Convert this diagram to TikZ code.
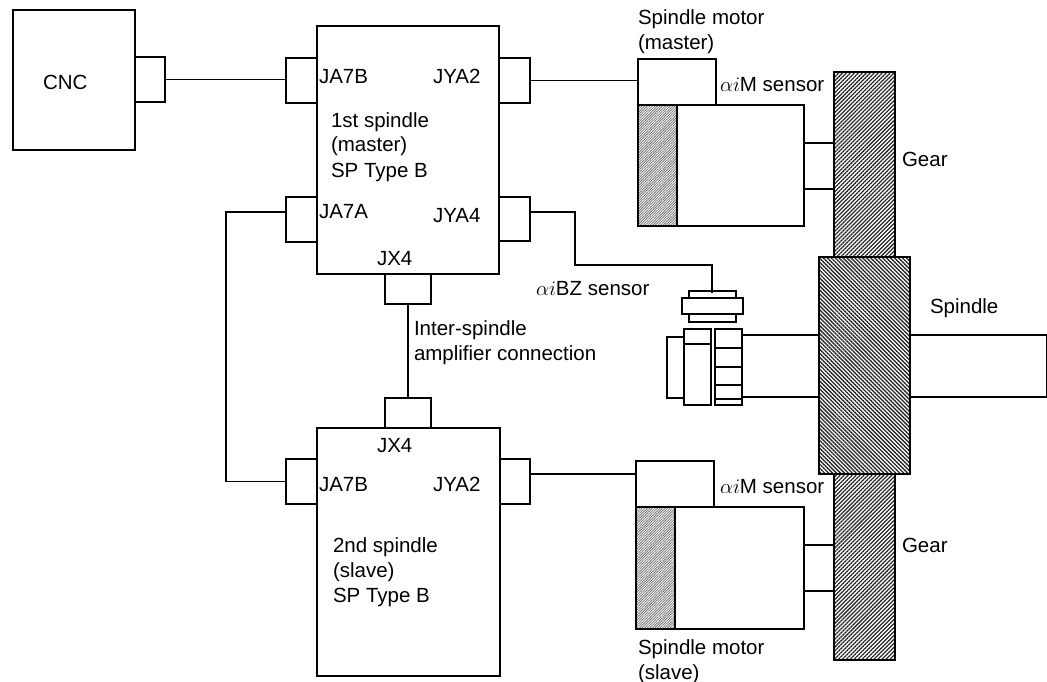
\documentclass[tikz,border=0pt]{standalone}
\usepackage{fontspec}
\setmainfont{Liberation Sans}
\usetikzlibrary{patterns.meta}
\newcommand{\bx}[6][]{%
  \pgfmathsetmacro{\bxw}{#5-#3}\pgfmathsetmacro{\bxh}{#6-#4}%
  \pgfmathsetmacro{\bxx}{(#3+#5)/2}\pgfmathsetmacro{\bxy}{(#4+#6)/2}%
  \node[partbox,#1,minimum width=\bxw pt,minimum height=\bxh pt] (#2) at (\bxx,\bxy) {};}
\newcommand{\lb}[4]{%
  \pgfmathsetmacro{\lby}{#3-16}%
  \node[lbl] (#1) at (#2,\lby) {\rule{0pt}{16pt}#4};}
\tikzset{
  x=1pt,y=-1pt,
  partbox/.style={draw=black,line width=1.3pt,inner sep=0pt,outer sep=0pt,fill=white},
  wire/.style={draw=black,line width=1.3pt},
  thin part/.style={line width=1.2pt},
  gearhatch/.style={pattern={Lines[angle=45,distance=2.8pt,line width=1.25pt]},pattern color=black!85},
  hubhatch/.style={pattern={Lines[angle=-45,distance=2.8pt,line width=1.35pt]},pattern color=black!85},
  motorhatch/.style={pattern={Lines[angle=45,distance=1.8pt,line width=0.8pt]},pattern color=black!55},
  lbl/.style={inner sep=0pt,outer sep=0pt,anchor=north west,align=left,font=\fontsize{20.5}{25}\selectfont},
}
\begin{document}
\begin{tikzpicture}
\useasboundingbox (0,0) rectangle (1047,682);
% control units
\bx{cnc}{13}{10}{135}{150}
\bx{cncp}{135}{57}{165}{102}
\bx{one}{317}{26}{499}{274}
\bx{jaB}{286}{58}{317}{103}
\bx{jyaT}{499}{58}{530}{103}
\bx{jaA}{286}{197}{317}{242}
\bx{jyaF}{499}{197}{530}{241}
\bx{jxT}{385}{274}{431}{304}
\bx{two}{317}{428}{500}{676}
\bx{jxB}{385}{398}{431}{428}
\bx{jaC}{286}{459}{317}{504}
\bx{jyaS}{500}{459}{530}{504}
% gears and spindle
\bx[gearhatch]{gearT}{834}{72}{895}{257}
\bx[gearhatch]{gearB}{834}{474}{895}{660}
\bx{spinR}{910}{335}{1047}{397}
\bx{spinL}{741}{335}{819}{397}
\bx[hubhatch]{hub}{819}{257}{910}{474}
% master motor
\bx{sensT}{638}{59}{716}{105}
\bx{motT}{638}{105}{804}{226}
\bx[motorhatch]{hatT}{638}{105}{677}{226}
\bx{shaftT}{804}{143}{834}{189}
% slave motor
\bx{sensB}{636}{461}{714}{507}
\bx{motB}{636}{507}{804}{629}
\bx[motorhatch]{hatB}{636}{507}{675}{629}
\bx{shaftB}{804}{545}{834}{591}
% BZ sensor
\bx[thin part]{bzTop}{689}{291}{736}{322}
\bx[thin part]{bzMid}{682}{298}{743}{314}
\bx[thin part]{bzL}{667}{337}{684}{398}
\bx[thin part]{bzA}{684}{329}{711}{405}
\bx[thin part]{bzB}{715}{329}{742}{405}
\coordinate (bzA1) at (684,344); \coordinate (bzA2) at (711,344);
\foreach \n/\yy in {1/348,2/367,3/385,4/399}{
  \coordinate (l\n) at (715,\yy); \coordinate (r\n) at (742,\yy);
  \draw[wire,line width=1.2pt] (l\n) -- (r\n);
}
\draw[wire,line width=1.2pt] (bzA1) -- (bzA2);
% wires
\coordinate (kA) at (226,482);
\coordinate (kF) at (575,265);
\draw[wire] (cncp.east) -- (cncp.east -| jaB.west);
\draw[wire] (jyaT.east) -- (jyaT.east -| sensT.west);
\draw[wire] ([yshift=7.5pt]jaA.west) -| (kA |- jaC.west) -- (jaC.west);
\draw[wire] ([yshift=7.5pt]jyaS.east) -- ([yshift=7.5pt]jyaS.east -| sensB.west);
\draw[wire] ([yshift=7pt]jyaF.east) -| (kF) -| ([xshift=-0.5pt,yshift=-2pt]bzTop.north);
\draw[wire] (jxT.south) -- (jxB.north);
% labels
\lb{tCNC}{43}{90}{CNC}
\lb{t1}{319}{84}{JA7B}
\lb{t2}{433}{84}{JYA2}
\lb{t3}{331}{127}{1st spindle\\(master)\\SP Type B}
\lb{t4}{319}{218}{JA7A}
\lb{t5}{433}{222}{JYA4}
\lb{t6}{377}{265}{JX4}
\lb{t7}{414}{335}{Inter-spindle\\amplifier connection}
\lb{t8}{377}{452}{JX4}
\lb{t9}{319}{491}{JA7B}
\lb{t10}{433}{491}{JYA2}
\lb{t11}{333}{552}{2nd spindle\\(slave)\\SP Type B}
\lb{t12}{638}{25}{Spindle motor\\(master)}
\lb{t13}{720}{92}{$\alpha i$M sensor}
\lb{t14}{536}{295}{$\alpha i$BZ sensor}
\lb{t15}{720}{493}{$\alpha i$M sensor}
\lb{t16}{902}{167}{Gear}
\lb{t17}{902}{552}{Gear}
\lb{t18}{930}{313}{Spindle}
\lb{t19}{638}{654}{Spindle motor\\(slave)}
\end{tikzpicture}
\end{document}
